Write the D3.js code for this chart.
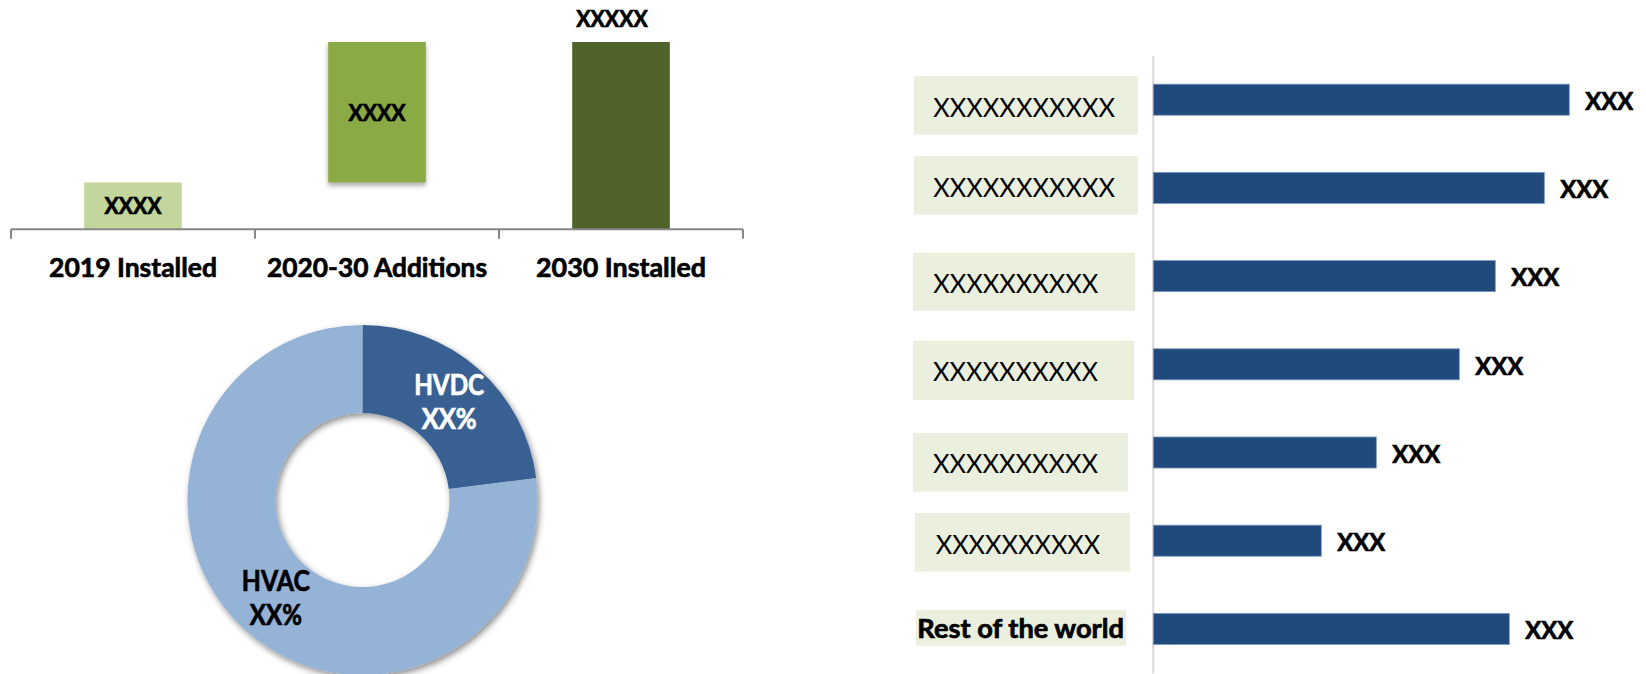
<!DOCTYPE html>
<html>
<head>
<meta charset="utf-8">
<script src="https://cdn.jsdelivr.net/npm/d3@7"></script>
<style>
  html, body { margin: 0; padding: 0; background: #ffffff; }
  svg { display: block; }
  text { font-family: Lato, "Open Sans", "DejaVu Sans", sans-serif; fill: #000; }
  text.heavy { stroke: #000; stroke-width: 0.7px; }
  text.heavy.light { stroke: #fff; fill: #fff; }
</style>
</head>
<body>
<svg id="chart" width="1646" height="674"></svg>
<script>
// ---- Data -------------------------------------------------------------
// Capacity build-up (waterfall): installed base, additions, resulting total
const waterfallCategories = ["2019 Installed", "2020-30 Additions", "2030 Installed"];
const waterfallValues = [25, 75, 100];
const waterfallKinds = ["total", "delta", "total"];
const waterfallLabels = ["XXXX", "XXXX", "XXXXX"];

// Technology split
const techNames = ["HVDC", "HVAC"];
const techShares = [23, 77];
const techLabels = ["XX%", "XX%"];

// Regional ranking
const regions = ["XXXXXXXXXXX", "XXXXXXXXXXX", "XXXXXXXXXX", "XXXXXXXXXX", "XXXXXXXXXX", "XXXXXXXXXX", "Rest of the world"];
const regionValues = [41.6, 39.1, 34.2, 30.6, 22.3, 16.8, 35.6];
const regionValueLabels = ["XXX", "XXX", "XXX", "XXX", "XXX", "XXX", "XXX"];

// ---- Setup ------------------------------------------------------------
const svg = d3.select("#chart");
const defs = svg.append("defs");

defs.append("filter").attr("id", "barShadow")
  .attr("x", "-20%").attr("y", "-20%").attr("width", "140%").attr("height", "140%")
  .append("feDropShadow")
  .attr("dx", 0).attr("dy", 3).attr("stdDeviation", 2.5)
  .attr("flood-color", "#000").attr("flood-opacity", 0.35);

defs.append("filter").attr("id", "ringShadow")
  .attr("x", "-10%").attr("y", "-10%").attr("width", "120%").attr("height", "120%")
  .append("feDropShadow")
  .attr("dx", 2).attr("dy", 3).attr("stdDeviation", 3)
  .attr("flood-color", "#000").attr("flood-opacity", 0.45);

// ---- Waterfall bars ---------------------------------------------------
const wf = svg.append("g").attr("class", "waterfall");
const wfX = d3.scaleBand()
  .domain(waterfallCategories)
  .range([11, 743])
  .paddingInner(0.6)
  .paddingOuter(0.3);
const wfY = d3.scaleLinear().domain([0, 100]).range([229.3, 42]);

// running start/end for each step
let running = 0;
const wfData = waterfallCategories.map((c, i) => {
  let start, end;
  if (waterfallKinds[i] === "total") { start = 0; end = waterfallValues[i]; running = end; }
  else { start = running; end = running + waterfallValues[i]; running = end; }
  return { cat: c, start, end, label: waterfallLabels[i], kind: waterfallKinds[i], i };
});
const wfColors = ["#c3d69b", "#89aa45", "#4f6228"];

wf.selectAll("rect.bar").data(wfData).join("rect")
  .attr("class", "bar")
  .attr("x", d => wfX(d.cat))
  .attr("width", wfX.bandwidth())
  .attr("y", d => wfY(d.end))
  .attr("height", d => wfY(d.start) - wfY(d.end))
  .attr("fill", (d, i) => wfColors[i])
  .attr("filter", d => d.kind === "delta" ? "url(#barShadow)" : null);

// axis line with boundary ticks
const bounds = d3.range(waterfallCategories.length + 1).map(i => wfX.range()[0] + i * wfX.step());
wf.append("line")
  .attr("x1", bounds[0]).attr("x2", bounds[bounds.length - 1])
  .attr("y1", wfY(0)).attr("y2", wfY(0))
  .attr("stroke", "#868686").attr("stroke-width", 2);
wf.selectAll("line.tick").data(bounds).join("line")
  .attr("class", "tick")
  .attr("x1", d => d).attr("x2", d => d)
  .attr("y1", wfY(0)).attr("y2", wfY(0) + 9.5)
  .attr("stroke", "#868686").attr("stroke-width", 2);

// category labels
const catWidths = [168, 220, 170];
wf.selectAll("text.cat").data(waterfallCategories).join("text")
  .attr("class", "cat heavy")
  .attr("x", d => wfX(d) + wfX.bandwidth() / 2)
  .attr("y", 277.3)
  .attr("text-anchor", "middle")
  .attr("font-weight", 700)
  .attr("font-size", 27.5)
  .attr("textLength", (d, i) => catWidths[i])
  .attr("lengthAdjust", "spacingAndGlyphs")
  .text(d => d);

// value labels: inside the step bars, above the final total
wf.selectAll("text.val").data(wfData).join("text")
  .attr("class", "val heavy")
  .attr("x", d => wfX(d.cat) + wfX.bandwidth() / 2 + (d.i === 2 ? -9 : 0))
  .attr("y", d => d.i === 2 ? wfY(d.end) - 15
                            : (wfY(d.start) + wfY(d.end)) / 2 + 8.5)
  .attr("text-anchor", "middle")
  .attr("font-weight", 700)
  .attr("font-size", 23)
  .attr("textLength", d => d.label.length * 14.3)
  .attr("lengthAdjust", "spacingAndGlyphs")
  .text(d => d.label);

// ---- Donut ------------------------------------------------------------
const donut = svg.append("g").attr("transform", "translate(362.5,500)");
const pie = d3.pie().sort(null).value(d => d.v);
const arcs = pie(techNames.map((n, i) => ({ name: n, v: techShares[i], label: techLabels[i] })));
const arc = d3.arc().innerRadius(87).outerRadius(175);
const labelArc = d3.arc().innerRadius(131).outerRadius(131);
const techColors = ["#376092", "#95b3d7"];

donut.append("g").attr("filter", "url(#ringShadow)")
  .selectAll("path").data(arcs).join("path")
  .attr("d", arc)
  .attr("fill", (d, i) => techColors[i]);

const dl = donut.selectAll("g.lbl").data(arcs).join("g")
  .attr("class", "lbl")
  .attr("transform", d => `translate(${labelArc.centroid(d)})`);
dl.append("text")
  .attr("class", (d, i) => i === 0 ? "heavy light" : "heavy")
  .attr("y", -7)
  .attr("text-anchor", "middle")
  .attr("font-weight", 700)
  .attr("font-size", 28)
  .attr("textLength", (d, i) => [70, 68][i])
  .attr("lengthAdjust", "spacingAndGlyphs")
  .text(d => d.data.name);
dl.append("text")
  .attr("class", (d, i) => i === 0 ? "heavy light" : "heavy")
  .attr("y", 27)
  .attr("text-anchor", "middle")
  .attr("font-weight", 700)
  .attr("font-size", 28)
  .attr("textLength", (d, i) => [55, 52][i])
  .attr("lengthAdjust", "spacingAndGlyphs")
  .text(d => d.data.label);

// ---- Regional ranking -------------------------------------------------
const rk = svg.append("g").attr("class", "ranking");
const rX = d3.scaleLinear().domain([0, 50]).range([1153.3, 1653.3]);
const rY = d3.scaleBand()
  .domain(d3.range(regions.length))
  .range([55.6, 673])
  .paddingInner(0.648)
  .paddingOuter(0.324);
const rData = regions.map((r, i) => ({ name: r, v: regionValues[i], label: regionValueLabels[i], i }));

// label panels beside the axis
const panelLayout = [
  { x: 914, w: 224, dy: -23.7, h: 58.7, tx: 933.3, base: 17,   tw: 181.7 },
  { x: 914, w: 224, dy: -31.9, h: 58.7, tx: 933.3, base: 8.8,  tw: 181.7 },
  { x: 913, w: 222, dy: -23.4, h: 58,   tx: 933.3, base: 16.6, tw: 165 },
  { x: 913, w: 221, dy: -23.6, h: 59.3, tx: 933,   base: 16.7, tw: 165 },
  { x: 913, w: 215, dy: -19.5, h: 58.7, tx: 933,   base: 20.2, tw: 165 },
  { x: 915, w: 215, dy: -27.7, h: 58.7, tx: 935.7, base: 13,   tw: 164.6 },
  { x: 916, w: 210, dy: -18.9, h: 35.7, tx: 917.3, base: 8.8,  tw: 206.7 }
];
const center = i => rY(i) + rY.bandwidth() / 2;
const last = regions.length - 1;

rk.selectAll("rect.panel").data(rData).join("rect")
  .attr("class", "panel")
  .attr("x", d => panelLayout[d.i].x)
  .attr("width", d => panelLayout[d.i].w)
  .attr("y", d => center(d.i) + panelLayout[d.i].dy)
  .attr("height", d => panelLayout[d.i].h)
  .attr("fill", "#ebf0de");

rk.selectAll("text.region").data(rData).join("text")
  .attr("class", d => d.i === last ? "region heavy" : "region")
  .attr("x", d => panelLayout[d.i].tx)
  .attr("y", d => center(d.i) + panelLayout[d.i].base)
  .attr("font-weight", d => d.i === last ? 700 : 400)
  .attr("font-size", d => d.i === last ? 27 : 26.5)
  .attr("textLength", d => panelLayout[d.i].tw)
  .attr("lengthAdjust", "spacingAndGlyphs")
  .text(d => d.name);

// vertical axis line
rk.append("g")
  .attr("transform", "translate(1152.7,0)")
  .call(d3.axisLeft(rY).tickSize(0).tickSizeOuter(0).tickFormat(""))
  .call(g => g.select(".domain").attr("stroke", "#d9d9d9").attr("stroke-width", 2))
  .call(g => g.selectAll(".tick").remove());

rk.selectAll("rect.rbar").data(rData).join("rect")
  .attr("class", "rbar")
  .attr("x", rX(0))
  .attr("width", d => rX(d.v) - rX(0))
  .attr("y", d => rY(d.i))
  .attr("height", rY.bandwidth())
  .attr("fill", "#204a7c")
  .attr("stroke", "#7b98c2")
  .attr("stroke-width", 0.8);

rk.selectAll("text.rval").data(rData).join("text")
  .attr("class", "rval heavy")
  .attr("x", d => rX(d.v) + 16)
  .attr("y", d => center(d.i) + 10.3)
  .attr("font-weight", 700)
  .attr("font-size", 25.5)
  .attr("textLength", 48)
  .attr("lengthAdjust", "spacingAndGlyphs")
  .text(d => d.label);
</script>
</body>
</html>
